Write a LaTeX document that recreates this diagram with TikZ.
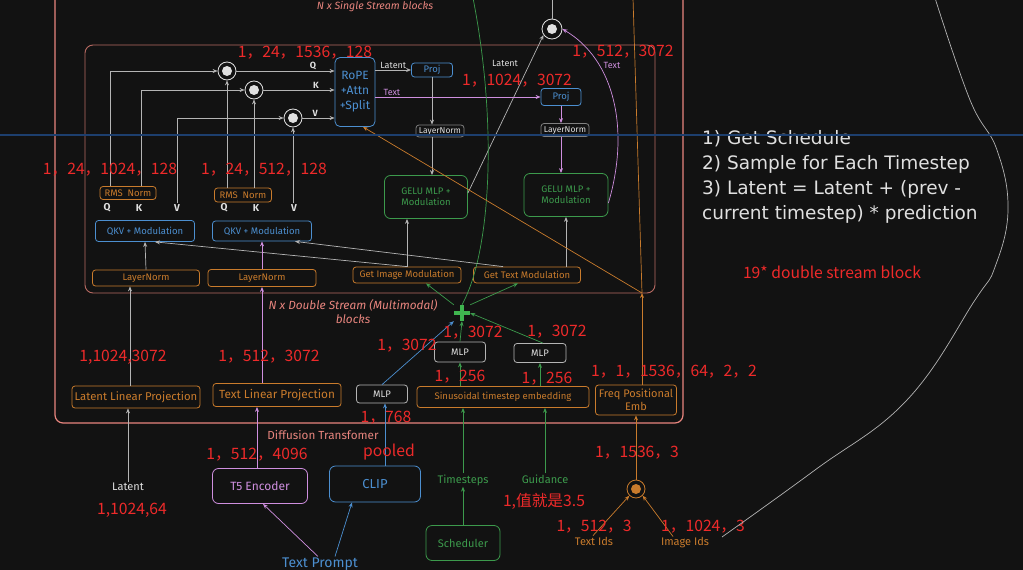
\documentclass[tikz,border=0pt]{standalone}
\usepackage{fontspec}
\setmainfont{Fira Sans}
\newfontfamily\cjk{Noto Sans CJK SC}
\newfontfamily\notefont{DejaVu Sans}
\usetikzlibrary{arrows.meta}

\definecolor{bg}{HTML}{121212}
\definecolor{salmon}{HTML}{E8857E}
\definecolor{innerred}{HTML}{B86A62}
\definecolor{orng}{HTML}{C97B2C}
\definecolor{blu}{HTML}{4C8FD0}
\definecolor{grn}{HTML}{3C9A4C}
\definecolor{plusgrn}{HTML}{3FB54F}
\definecolor{pnk}{HTML}{CF8FDF}
\definecolor{gry}{HTML}{B4B4B4}
\definecolor{txt}{HTML}{E0E0E0}
\definecolor{redn}{HTML}{EE2A2A}
\definecolor{glare}{HTML}{1D3F6E}

\tikzset{
  box/.style={draw, rounded corners=3pt, line width=0.8pt, fill=bg, align=center, inner sep=0pt, font=\fontsize{9.5}{11}\selectfont},
  sz/.style n args={2}{minimum width=#1pt, minimum height=#2pt},
  obox/.style={box, draw=orng, text=orng},
  bbox/.style={box, draw=blu, text=blu},
  gbox/.style={box, draw=grn, text=grn},
  pbox/.style={box, draw=pnk, text=pnk},
  wbox/.style={box, draw=gry, text=txt},
  mul/.style={circle, draw=#1, line width=0.8pt, minimum size=18pt, inner sep=0pt,
    path picture={\fill[#1] (path picture bounding box.center) circle (5pt);}},
  addop/.style={minimum size=16pt, inner sep=0pt,
    path picture={\draw[plusgrn, line width=4pt]
      (path picture bounding box.west) -- (path picture bounding box.east)
      (path picture bounding box.north) -- (path picture bounding box.south);}},
  dim/.style={text=redn, font=\cjk\fontsize{15.7}{17}\selectfont, inner sep=0pt},
  lbl/.style={font=\fontsize{11}{13}\selectfont, inner sep=1pt},
  arr/.style={-{Stealth[length=5pt,width=4pt]}, line width=0.7pt},
}

\begin{document}
\begin{tikzpicture}[x=1pt,y=-1pt]
\fill[bg] (0,0) rectangle (1023,570);
\useasboundingbox (0,0) rectangle (1023,570);
\clip (0,0) rectangle (1023,570);

% transformer frames
\draw[salmon, line width=1.2pt, rounded corners=8pt] (55,-20) rectangle (683,423);
\draw[innerred, line width=0.9pt, rounded corners=8pt] (85,45) rectangle (655,293);
\node[text=salmon, lbl, font=\fontsize{10.5}{12}\selectfont\itshape] at (375,7) {N x Single Stream blocks};
\node[text=salmon, lbl, align=center, font=\fontsize{11.8}{14}\selectfont\itshape] at (353,312) {N x Double Stream (Multimodal)\\blocks};
\node[text=salmon, lbl, font=\fontsize{11.7}{13}\selectfont] at (323,435) {Diffusion Transfomer};

% double stream
\node[obox, sz={56}{13}] (rms1) at (128,193) {RMS\enspace Norm};
\node[obox, sz={57}{14}] (rms2) at (243,195) {RMS\enspace Norm};
\node[bbox, sz={99}{21}] (qkv1) at (145,231) {QKV + Modulation};
\node[bbox, sz={99}{20}] (qkv2) at (262,231) {QKV + Modulation};
\node[obox, sz={107}{16}] (ln1) at (146,278) {LayerNorm};
\node[obox, sz={108}{17}] (ln2) at (262,278) {LayerNorm};
\node[obox, sz={108}{16}] (gim) at (407,275) {Get Image Modulation};
\node[obox, sz={107}{16}] (gtm) at (527,275) {Get Text Modulation};
\node[gbox, sz={83}{43}, rounded corners=6pt] (gelu1) at (426,197) {GELU MLP +\\Modulation};
\node[gbox, sz={84}{43}, rounded corners=6pt] (gelu2) at (566,195) {GELU MLP +\\Modulation};

\foreach \nm/\px/\tx in {q1/107/Q, k1/139/K, v1/177/V, q2/224/Q, k2/256/K, v2/294/V}
  \node[lbl, text=txt, font=\fontsize{10}{11}\selectfont\bfseries] (\nm) at (\px,208) {\tx};

% single stream
\node[bbox, sz={40}{69}, rounded corners=5pt, font=\fontsize{12}{15}\selectfont] (rope) at (355,92) {RoPE\\+Attn\\+Split};
\node[mul=txt] (c1) at (227,71) {};
\node[mul=txt] (c2) at (254,90) {};
\node[mul=txt] (c3) at (293,118) {};
\node[bbox, sz={41}{14}] (proj1) at (432,70) {Proj};
\node[bbox, sz={40}{17}] (proj2) at (561,97) {Proj};
\node[wbox, draw=gray, sz={48}{12}, font=\fontsize{8.5}{10}\selectfont] (lnl) at (440,131) {LayerNorm};
\node[wbox, draw=gray, sz={48}{13}, font=\fontsize{8.5}{10}\selectfont] (lnt) at (565,130) {LayerNorm};
\node[mul=txt, minimum size=20pt] (out) at (552,29) {};

% inputs
\node[obox, sz={128}{22}, font=\fontsize{11.3}{13}\selectfont] (llp) at (136,397) {Latent Linear Projection};
\node[obox, sz={128}{23}, font=\fontsize{11.8}{13}\selectfont] (tlp) at (277,395) {Text Linear Projection};
\node[wbox, sz={51}{18}] (mlpp) at (382,394) {MLP};
\node[obox, sz={172}{21}] (ste) at (503,397) {Sinusoidal timestep embedding};
\node[wbox, sz={51}{20}] (mlpt) at (460,352) {MLP};
\node[wbox, sz={52}{19}] (mlpg) at (540,353) {MLP};
\node[obox, sz={81}{30}, font=\fontsize{11}{13}\selectfont] (fpe) at (636,400) {Freq Positional\\Emb};
\node[addop] (plus) at (462,313) {};
\node[mul=orng] (idc) at (636,489) {};
\node[pbox, sz={95}{35}, rounded corners=6pt, font=\fontsize{12}{14}\selectfont] (t5) at (260,486) {T5 Encoder};
\node[bbox, sz={91}{36}, rounded corners=6pt, font=\fontsize{13}{15}\selectfont] (clip) at (375,484) {CLIP};
\node[gbox, sz={74}{35}, rounded corners=6pt, font=\fontsize{11}{13}\selectfont] (sched) at (463,543) {Scheduler};
\node[lbl, text=txt] (latent) at (128,487) {Latent};
\node[lbl, text=grn] (tsteps) at (463,480) {Timesteps};
\node[lbl, text=grn] (guid) at (545,479) {Guidance};
\node[lbl, text=blu, font=\fontsize{14}{16}\selectfont] (prompt) at (320,564) {Text Prompt};
\node[lbl, text=orng] (tids) at (594,541) {Text Ids};
\node[lbl, text=orng] (iids) at (685,543) {Image Ids};

\coordinate (pe) at (642,293);
\coordinate (petop) at (633,-2);
\coordinate (gtop) at (473,-2);
\coordinate (otop) at (552,-2);

% gray connectors
\draw[arr, gry] ([xshift=-18pt]rms1.north) |- (c1.west);
\draw[arr, gry] ([xshift=13pt]rms1.north) |- (c2.west);
\draw[arr, gry] (v1.north) |- (c3.west);
\draw[arr, gry] (c1.south |- rms2.north) -- (c1.south);
\draw[arr, gry] (c2.south |- rms2.north) -- (c2.south);
\draw[arr, gry] (c3.south |- v2.north) -- (c3.south);
\draw[arr, gry] (c1.east) -- (c1.east -| rope.west) node[lbl, text=txt, above, pos=0.78, font=\fontsize{9}{10}\selectfont\bfseries] {Q};
\draw[arr, gry] (c2.east) -- (c2.east -| rope.west) node[lbl, text=txt, above, pos=0.74, font=\fontsize{9}{10}\selectfont\bfseries] {K};
\draw[arr, gry] (c3.east) -- (c3.east -| rope.west) node[lbl, text=txt, above, pos=0.4, font=\fontsize{9}{10}\selectfont\bfseries] {V};
\draw[arr, gry] (ln1.north) -- (qkv1.south);
\draw[arr, gry] (gim.north) -- ([xshift=10pt]qkv1.south);
\draw[arr, gry] ([xshift=-24pt]gtm.north) -- ([xshift=33pt]qkv2.south);
\draw[arr, gry] (gim.north) -- (gim.north |- gelu1.south);
\draw[arr, gry] (gelu2.south |- gtm.north) -- (gelu2.south);
\draw[arr, gry] (rope.east |- proj1.west) -- (proj1.west) node[lbl, text=txt, above, midway, font=\fontsize{9}{10}\selectfont] {Latent};
\draw[arr, gry] (proj1.south) -- (proj1.south |- lnl.north);
\draw[arr, gry] (proj1.south |- lnl.south) -- (proj1.south |- gelu1.north);
\draw[arr, gry] ([yshift=4pt]gelu1.east) -- (out.215);
\node[lbl, text=txt, font=\fontsize{9}{10}\selectfont] at (505,63) {Latent};
\draw[gry, line width=0.7pt] (out.north) -- (otop);
\draw[arr, gry] (latent.north) -- (latent.north |- llp.south);
\draw[arr, gry] ([xshift=2pt]latent.north |- llp.north) -- ([xshift=2pt]latent.north |- ln1.south);

% pink connectors
\draw[arr, pnk] (ln2.south |- tlp.north) -- (ln2.south);
\draw[arr, pnk] (ln2.north) -- (qkv2.south);
\draw[arr, pnk] (rope.east |- proj2.west) -- (proj2.west) node[lbl, text=pnk, above, pos=0.1, font=\fontsize{9}{10}\selectfont] {Text};
\draw[arr, pnk] (proj2.south) -- (proj2.south |- lnt.north);
\draw[arr, pnk] (proj2.south |- lnt.south) -- (proj2.south |- gelu2.north);
\draw[arr, pnk] ([yshift=-8pt]gelu2.east) .. controls (630,130) and (615,60) .. (out.east);
\node[lbl, text=pnk, font=\fontsize{9}{10}\selectfont] at (612,65) {Text};
\draw[arr, pnk] (t5.north -| 257,0) -- (tlp.south -| 257,0);
\draw[arr, pnk] ([xshift=-2pt]prompt.north) -- ([xshift=3pt]t5.south);

% blue connectors
\draw[arr, blu] ([xshift=3pt]mlpp.south |- clip.north) -- ([xshift=3pt]mlpp.south);
\draw[arr, blu] ([xshift=15pt]prompt.north) -- ([xshift=-23pt]clip.south);
\draw[arr, blu] (mlpp.north) -- (plus.south west);

% green connectors
\draw[arr, grn] (sched.north -| tsteps.south) -- (tsteps.south);
\draw[arr, grn] (tsteps.north) -- (tsteps.north |- ste.south);
\draw[arr, grn] (guid.north) -- (guid.north |- ste.south);
\draw[arr, grn] (ste.north -| mlpt.south) -- (mlpt.south);
\draw[arr, grn] (ste.north -| mlpg.south) -- (mlpg.south);
\draw[arr, grn] (mlpt.north) -- (plus.south);
\draw[arr, grn] ([xshift=3pt]mlpg.north) -- (plus.east);
\draw[arr, grn] (plus.north west) -- ([xshift=19pt]gim.south);
\draw[arr, grn] (plus.north east) -- ([xshift=-9pt]gtm.south);
\draw[grn, line width=0.7pt] (plus.north) .. controls (492,250) and (497,120) .. (gtop);

% orange connectors
\draw[arr, orng] (idc.north) -- (fpe.south);
\draw[arr, orng] ([xshift=-1pt]tids.north) -- (idc.south west);
\draw[arr, orng] ([xshift=-12pt]iids.north) -- (idc.south east);
\draw[arr, orng] (fpe.north -| pe) -- (pe);
\draw[arr, orng] (pe) -- ([xshift=8pt]rope.south);
\draw[orng, line width=0.7pt] (pe) -- (petop);

% tensor shapes
\node[dim] at (305,53) {1，24，1536，128};
\node[dim] at (623,52) {1，512，3072};
\node[dim] at (517,81) {1，1024，3072};
\node[dim] at (110,170) {1，24，1024，128};
\node[dim] at (264,170) {1，24，512，128};
\node[dim] at (123,357) {1,1024,3072};
\node[dim] at (269,357) {1，512，3072};
\node[dim] at (407,346) {1，3072};
\node[dim] at (473,333) {1，3072};
\node[dim] at (557,332) {1，3072};
\node[dim] at (460,377) {1，256};
\node[dim] at (547,379) {1，256};
\node[dim] at (386,418) {1，768};
\node[dim] at (389,452) {pooled};
\node[dim] at (674,372) {1，1，1536，64，2，2};
\node[dim] at (637,453) {1，1536，3};
\node[dim] at (257,455) {1，512，4096};
\node[dim] at (132,510) {1,1024,64};
\node[dim] at (544,501) {1,值就是3.5};
\node[dim] at (594,527) {1，512，3};
\node[dim] at (703,527) {1，1024，3};
\node[dim] at (832,272) {19* double stream block};

% sampling notes
\node[text=txt, align=left, anchor=west, inner sep=0pt, font=\notefont\fontsize{18.5}{25}\selectfont] (steps) at (702,177)
  {1) Get Schedule\\2) Sample for Each Timestep\\3) Latent = Latent + (prev -\\current timestep) * prediction};
\draw[gry, line width=0.7pt] plot[smooth, tension=0.7] coordinates {(935,-2) (970,100) (997,150) (1008,210) (995,267) (975,300) (907,400) (815,470) (722,537)};

% screen glare
\draw[line width=2.5pt, glare] (0,135) -- (1023,135);
\end{tikzpicture}
\end{document}
